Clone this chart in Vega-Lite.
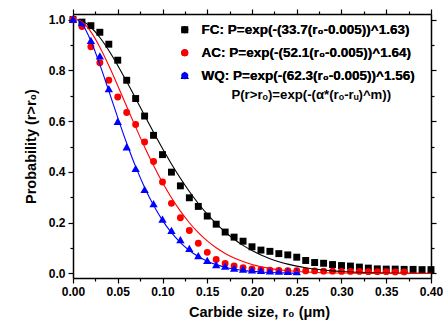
{
  "$schema": "https://vega.github.io/schema/vega-lite/v6.json",
  "width": 358,
  "height": 264,
  "autosize": "none",
  "padding": {"left": 73, "top": 14, "right": 12, "bottom": 46},
  "background": "white",
  "config": {
    "view": {"stroke": null},
    "font": "Liberation Sans",
    "axis": {
      "grid": false,
      "domainColor": "black",
      "domainWidth": 1.5,
      "tickColor": "black",
      "tickWidth": 1.2,
      "labelColor": "black",
      "labelFont": "Liberation Sans",
      "labelFontSize": 12,
      "labelFontWeight": "bold",
      "titleFont": "Liberation Sans",
      "titleFontSize": 14,
      "titleFontWeight": "bold",
      "titleColor": "black",
      "labelFlush": false,
      "labelOverlap": false
    }
  },
  "datasets": {
    "pts": [
      {"s": "FC", "r": 0.0, "p": 1.0}, {"s": "FC", "r": 0.01, "p": 0.99}, {"s": "FC", "r": 0.02, "p": 0.976}, {"s": "FC", "r": 0.03, "p": 0.95},
      {"s": "FC", "r": 0.04, "p": 0.903}, {"s": "FC", "r": 0.05, "p": 0.84}, {"s": "FC", "r": 0.06, "p": 0.761}, {"s": "FC", "r": 0.07, "p": 0.689},
      {"s": "FC", "r": 0.08, "p": 0.62}, {"s": "FC", "r": 0.09, "p": 0.544}, {"s": "FC", "r": 0.1, "p": 0.468}, {"s": "FC", "r": 0.11, "p": 0.399},
      {"s": "FC", "r": 0.12, "p": 0.345}, {"s": "FC", "r": 0.13, "p": 0.298}, {"s": "FC", "r": 0.14, "p": 0.264}, {"s": "FC", "r": 0.15, "p": 0.226},
      {"s": "FC", "r": 0.16, "p": 0.194}, {"s": "FC", "r": 0.17, "p": 0.163}, {"s": "FC", "r": 0.18, "p": 0.143}, {"s": "FC", "r": 0.19, "p": 0.127},
      {"s": "FC", "r": 0.2, "p": 0.105}, {"s": "FC", "r": 0.21, "p": 0.092}, {"s": "FC", "r": 0.22, "p": 0.087}, {"s": "FC", "r": 0.23, "p": 0.078},
      {"s": "FC", "r": 0.24, "p": 0.073}, {"s": "FC", "r": 0.25, "p": 0.064}, {"s": "FC", "r": 0.26, "p": 0.051}, {"s": "FC", "r": 0.27, "p": 0.043},
      {"s": "FC", "r": 0.28, "p": 0.04}, {"s": "FC", "r": 0.29, "p": 0.035}, {"s": "FC", "r": 0.3, "p": 0.031}, {"s": "FC", "r": 0.31, "p": 0.029},
      {"s": "FC", "r": 0.32, "p": 0.025}, {"s": "FC", "r": 0.33, "p": 0.021}, {"s": "FC", "r": 0.34, "p": 0.018}, {"s": "FC", "r": 0.35, "p": 0.017},
      {"s": "FC", "r": 0.36, "p": 0.017}, {"s": "FC", "r": 0.37, "p": 0.016}, {"s": "FC", "r": 0.38, "p": 0.016}, {"s": "FC", "r": 0.39, "p": 0.015},
      {"s": "FC", "r": 0.4, "p": 0.015},
      {"s": "AC", "r": 0.0, "p": 1.0}, {"s": "AC", "r": 0.01, "p": 0.973}, {"s": "AC", "r": 0.02, "p": 0.893}, {"s": "AC", "r": 0.03, "p": 0.83},
      {"s": "AC", "r": 0.04, "p": 0.761}, {"s": "AC", "r": 0.05, "p": 0.695}, {"s": "AC", "r": 0.06, "p": 0.634}, {"s": "AC", "r": 0.07, "p": 0.587},
      {"s": "AC", "r": 0.08, "p": 0.518}, {"s": "AC", "r": 0.09, "p": 0.441}, {"s": "AC", "r": 0.1, "p": 0.36}, {"s": "AC", "r": 0.11, "p": 0.276},
      {"s": "AC", "r": 0.12, "p": 0.219}, {"s": "AC", "r": 0.13, "p": 0.169}, {"s": "AC", "r": 0.14, "p": 0.119}, {"s": "AC", "r": 0.15, "p": 0.083},
      {"s": "AC", "r": 0.16, "p": 0.055}, {"s": "AC", "r": 0.17, "p": 0.039}, {"s": "AC", "r": 0.18, "p": 0.029}, {"s": "AC", "r": 0.19, "p": 0.023},
      {"s": "AC", "r": 0.2, "p": 0.018}, {"s": "AC", "r": 0.21, "p": 0.015}, {"s": "AC", "r": 0.22, "p": 0.013}, {"s": "AC", "r": 0.23, "p": 0.012},
      {"s": "AC", "r": 0.24, "p": 0.011}, {"s": "AC", "r": 0.25, "p": 0.011}, {"s": "AC", "r": 0.26, "p": 0.01}, {"s": "AC", "r": 0.27, "p": 0.01},
      {"s": "AC", "r": 0.28, "p": 0.009}, {"s": "AC", "r": 0.29, "p": 0.009}, {"s": "AC", "r": 0.3, "p": 0.008}, {"s": "AC", "r": 0.31, "p": 0.008},
      {"s": "AC", "r": 0.32, "p": 0.008}, {"s": "AC", "r": 0.33, "p": 0.007}, {"s": "AC", "r": 0.34, "p": 0.007}, {"s": "AC", "r": 0.35, "p": 0.007},
      {"s": "AC", "r": 0.36, "p": 0.006}, {"s": "AC", "r": 0.37, "p": 0.006},
      {"s": "WQ", "r": 0.0, "p": 1.0}, {"s": "WQ", "r": 0.01, "p": 0.986}, {"s": "WQ", "r": 0.02, "p": 0.916}, {"s": "WQ", "r": 0.03, "p": 0.855},
      {"s": "WQ", "r": 0.04, "p": 0.726}, {"s": "WQ", "r": 0.05, "p": 0.597}, {"s": "WQ", "r": 0.06, "p": 0.497}, {"s": "WQ", "r": 0.07, "p": 0.412},
      {"s": "WQ", "r": 0.08, "p": 0.329}, {"s": "WQ", "r": 0.09, "p": 0.273}, {"s": "WQ", "r": 0.1, "p": 0.212}, {"s": "WQ", "r": 0.11, "p": 0.168},
      {"s": "WQ", "r": 0.12, "p": 0.131}, {"s": "WQ", "r": 0.13, "p": 0.097}, {"s": "WQ", "r": 0.14, "p": 0.068}, {"s": "WQ", "r": 0.15, "p": 0.049},
      {"s": "WQ", "r": 0.16, "p": 0.033}, {"s": "WQ", "r": 0.17, "p": 0.027}, {"s": "WQ", "r": 0.18, "p": 0.019}, {"s": "WQ", "r": 0.19, "p": 0.015},
      {"s": "WQ", "r": 0.2, "p": 0.012}, {"s": "WQ", "r": 0.21, "p": 0.01}, {"s": "WQ", "r": 0.22, "p": 0.008}, {"s": "WQ", "r": 0.23, "p": 0.007},
      {"s": "WQ", "r": 0.24, "p": 0.006}, {"s": "WQ", "r": 0.25, "p": 0.005}
    ],
    "fit": [
      {"s": "FC", "r": 0.005, "p": 1.0}, {"s": "FC", "r": 0.01, "p": 0.9953}, {"s": "FC", "r": 0.02, "p": 0.9697}, {"s": "FC", "r": 0.03, "p": 0.9293},
      {"s": "FC", "r": 0.04, "p": 0.8782}, {"s": "FC", "r": 0.05, "p": 0.8195}, {"s": "FC", "r": 0.06, "p": 0.7557}, {"s": "FC", "r": 0.07, "p": 0.6893},
      {"s": "FC", "r": 0.08, "p": 0.6222}, {"s": "FC", "r": 0.09, "p": 0.5559}, {"s": "FC", "r": 0.1, "p": 0.492}, {"s": "FC", "r": 0.11, "p": 0.4314},
      {"s": "FC", "r": 0.12, "p": 0.3748}, {"s": "FC", "r": 0.13, "p": 0.3227}, {"s": "FC", "r": 0.14, "p": 0.2756}, {"s": "FC", "r": 0.15, "p": 0.2333},
      {"s": "FC", "r": 0.16, "p": 0.1959}, {"s": "FC", "r": 0.17, "p": 0.1631}, {"s": "FC", "r": 0.18, "p": 0.1348}, {"s": "FC", "r": 0.19, "p": 0.1105},
      {"s": "FC", "r": 0.2, "p": 0.09}, {"s": "FC", "r": 0.21, "p": 0.0726}, {"s": "FC", "r": 0.22, "p": 0.0582}, {"s": "FC", "r": 0.23, "p": 0.0463},
      {"s": "FC", "r": 0.24, "p": 0.0366}, {"s": "FC", "r": 0.25, "p": 0.0287}, {"s": "FC", "r": 0.26, "p": 0.0224}, {"s": "FC", "r": 0.27, "p": 0.0173},
      {"s": "FC", "r": 0.28, "p": 0.0133}, {"s": "FC", "r": 0.29, "p": 0.0101}, {"s": "FC", "r": 0.3, "p": 0.0077}, {"s": "FC", "r": 0.32, "p": 0.0043},
      {"s": "FC", "r": 0.34, "p": 0.0024}, {"s": "FC", "r": 0.36, "p": 0.0013}, {"s": "FC", "r": 0.38, "p": 0.0007}, {"s": "FC", "r": 0.4, "p": 0.0003},
      {"s": "AC", "r": 0.005, "p": 1.0}, {"s": "AC", "r": 0.01, "p": 0.9918}, {"s": "AC", "r": 0.02, "p": 0.9514}, {"s": "AC", "r": 0.03, "p": 0.8914},
      {"s": "AC", "r": 0.04, "p": 0.819}, {"s": "AC", "r": 0.05, "p": 0.7396}, {"s": "AC", "r": 0.06, "p": 0.6576}, {"s": "AC", "r": 0.07, "p": 0.5763},
      {"s": "AC", "r": 0.08, "p": 0.4981}, {"s": "AC", "r": 0.09, "p": 0.4249}, {"s": "AC", "r": 0.1, "p": 0.358}, {"s": "AC", "r": 0.11, "p": 0.2981},
      {"s": "AC", "r": 0.12, "p": 0.2454}, {"s": "AC", "r": 0.13, "p": 0.1997}, {"s": "AC", "r": 0.14, "p": 0.1608}, {"s": "AC", "r": 0.15, "p": 0.1281},
      {"s": "AC", "r": 0.16, "p": 0.101}, {"s": "AC", "r": 0.17, "p": 0.0789}, {"s": "AC", "r": 0.18, "p": 0.061}, {"s": "AC", "r": 0.19, "p": 0.0467},
      {"s": "AC", "r": 0.2, "p": 0.0354}, {"s": "AC", "r": 0.21, "p": 0.0266}, {"s": "AC", "r": 0.22, "p": 0.0198}, {"s": "AC", "r": 0.23, "p": 0.0146},
      {"s": "AC", "r": 0.24, "p": 0.0107}, {"s": "AC", "r": 0.25, "p": 0.0078}, {"s": "AC", "r": 0.26, "p": 0.0056}, {"s": "AC", "r": 0.27, "p": 0.004},
      {"s": "AC", "r": 0.28, "p": 0.0028}, {"s": "AC", "r": 0.3, "p": 0.0014}, {"s": "AC", "r": 0.35, "p": 0.0002}, {"s": "AC", "r": 0.4, "p": 0.0},
      {"s": "WQ", "r": 0.005, "p": 1.0}, {"s": "WQ", "r": 0.01, "p": 0.9843}, {"s": "WQ", "r": 0.02, "p": 0.9158}, {"s": "WQ", "r": 0.03, "p": 0.8228},
      {"s": "WQ", "r": 0.04, "p": 0.7191}, {"s": "WQ", "r": 0.05, "p": 0.6139}, {"s": "WQ", "r": 0.06, "p": 0.513}, {"s": "WQ", "r": 0.07, "p": 0.4206},
      {"s": "WQ", "r": 0.08, "p": 0.3387}, {"s": "WQ", "r": 0.09, "p": 0.2682}, {"s": "WQ", "r": 0.1, "p": 0.209}, {"s": "WQ", "r": 0.11, "p": 0.1604},
      {"s": "WQ", "r": 0.12, "p": 0.1213}, {"s": "WQ", "r": 0.13, "p": 0.0905}, {"s": "WQ", "r": 0.14, "p": 0.0666}, {"s": "WQ", "r": 0.15, "p": 0.0484},
      {"s": "WQ", "r": 0.16, "p": 0.0347}, {"s": "WQ", "r": 0.17, "p": 0.0246}, {"s": "WQ", "r": 0.18, "p": 0.0172}, {"s": "WQ", "r": 0.19, "p": 0.0119},
      {"s": "WQ", "r": 0.2, "p": 0.0082}, {"s": "WQ", "r": 0.21, "p": 0.0055}, {"s": "WQ", "r": 0.22, "p": 0.0037}, {"s": "WQ", "r": 0.23, "p": 0.0025},
      {"s": "WQ", "r": 0.24, "p": 0.0016}, {"s": "WQ", "r": 0.25, "p": 0.001}
    ],
    "note": [
      {"r": 0.177, "p": 0.703, "t": "P(r>rₒ)=exp(-(α*(rₒ-rᵤ)^m))"}
    ]
  },
  "layer": [
    {
      "data": {"name": "pts"},
      "mark": {"type": "point", "filled": true, "size": 48, "opacity": 1, "strokeWidth": 0},
      "encoding": {
        "x": {
          "field": "r", "type": "quantitative",
          "scale": {"domain": [0, 0.4], "nice": false, "zero": false},
          "axis": {
            "orient": "bottom",
            "values": [0, 0.025, 0.05, 0.075, 0.1, 0.125, 0.15, 0.175, 0.2, 0.225, 0.25, 0.275, 0.3, 0.325, 0.35, 0.375, 0.4],
            "labelExpr": "abs(datum.value*20 - round(datum.value*20)) < 0.001 ? format(datum.value, '.2f') : ''",
            "tickSize": {"condition": {"test": "abs(datum.value*20 - round(datum.value*20)) < 0.001", "value": 5}, "value": 3},
            "labelPadding": 3,
            "title": "Carbide size, r₀ (μm)",
            "titleFontSize": 14.5,
            "titleX": 186,
            "titleAnchor": "middle",
            "titlePadding": 8
          }
        },
        "y": {
          "field": "p", "type": "quantitative",
          "scale": {"domain": [-0.018, 1.022], "nice": false, "zero": false},
          "axis": {
            "orient": "left",
            "values": [0, 0.1, 0.2, 0.3, 0.4, 0.5, 0.6, 0.7, 0.8, 0.9, 1.0],
            "labelExpr": "abs(datum.value*5 - round(datum.value*5)) < 0.001 ? format(datum.value, '.1f') : ''",
            "tickSize": {"condition": {"test": "abs(datum.value*5 - round(datum.value*5)) < 0.001", "value": 5}, "value": 3},
            "labelPadding": 3,
            "title": "Probability (r>r₀)",
            "titleFontSize": 14.5,
            "titlePadding": 10
          }
        },
        "color": {
          "field": "s", "type": "nominal",
          "scale": {"domain": ["FC", "AC", "WQ"], "range": ["#000000", "#ff0000", "#0000ff"]},
          "legend": {
            "title": null, "orient": "none", "legendX": 105, "legendY": 9, "padding": 0,
            "labelExpr": "datum.label == 'FC' ? 'FC: P=exp(-(33.7(r₀-0.005))^1.63)' : datum.label == 'AC' ? 'AC: P=exp(-(52.1(r₀-0.005))^1.64)' : 'WQ: P=exp(-(62.3(r₀-0.005))^1.56)'",
            "labelFont": "Liberation Sans", "labelFontSize": 13.5, "labelFontWeight": "bold", "labelColor": "black",
            "symbolSize": 50, "rowPadding": 8, "labelOffset": 10, "labelLimit": 400, "symbolStrokeWidth": 0
          }
        },
        "shape": {
          "field": "s", "type": "nominal",
          "scale": {"domain": ["FC", "AC", "WQ"], "range": ["square", "circle", "M0,-1.2L1.2,0.9L-1.2,0.9Z"]},
          "legend": {
            "title": null, "orient": "none", "legendX": 105, "legendY": 9, "padding": 0,
            "labelExpr": "datum.label == 'FC' ? 'FC: P=exp(-(33.7(r₀-0.005))^1.63)' : datum.label == 'AC' ? 'AC: P=exp(-(52.1(r₀-0.005))^1.64)' : 'WQ: P=exp(-(62.3(r₀-0.005))^1.56)'",
            "labelFont": "Liberation Sans", "labelFontSize": 13.5, "labelFontWeight": "bold", "labelColor": "black",
            "symbolSize": 50, "rowPadding": 8, "labelOffset": 10, "labelLimit": 400, "symbolStrokeWidth": 0
          }
        }
      }
    },
    {
      "data": {"name": "fit"},
      "mark": {"type": "line", "strokeWidth": 1.1, "interpolate": "monotone"},
      "encoding": {
        "x": {
          "field": "r", "type": "quantitative",
          "axis": {
            "orient": "top",
            "values": [0, 0.025, 0.05, 0.075, 0.1, 0.125, 0.15, 0.175, 0.2, 0.225, 0.25, 0.275, 0.3, 0.325, 0.35, 0.375, 0.4],
            "labels": false,
            "tickSize": {"condition": {"test": "abs(datum.value*20 - round(datum.value*20)) < 0.001", "value": 5}, "value": 3},
            "title": null
          }
        },
        "y": {
          "field": "p", "type": "quantitative",
          "axis": {
            "orient": "right",
            "values": [0, 0.1, 0.2, 0.3, 0.4, 0.5, 0.6, 0.7, 0.8, 0.9, 1.0],
            "labels": false,
            "tickSize": {"condition": {"test": "abs(datum.value*5 - round(datum.value*5)) < 0.001", "value": 5}, "value": 3},
            "title": null
          }
        },
        "color": {
          "field": "s", "type": "nominal",
          "scale": {"domain": ["FC", "AC", "WQ"], "range": ["#000000", "#ff0000", "#0000ff"]},
          "legend": null
        }
      }
    },
    {
      "data": {"name": "note"},
      "mark": {"type": "text", "align": "left", "baseline": "middle", "font": "Liberation Sans", "fontSize": 13.2, "fontWeight": "bold", "color": "black"},
      "encoding": {
        "x": {"field": "r", "type": "quantitative", "axis": null},
        "y": {"field": "p", "type": "quantitative", "axis": null},
        "text": {"field": "t"}
      }
    }
  ],
  "resolve": {"axis": {"x": "independent", "y": "independent"}, "scale": {"color": "independent"}}
}
